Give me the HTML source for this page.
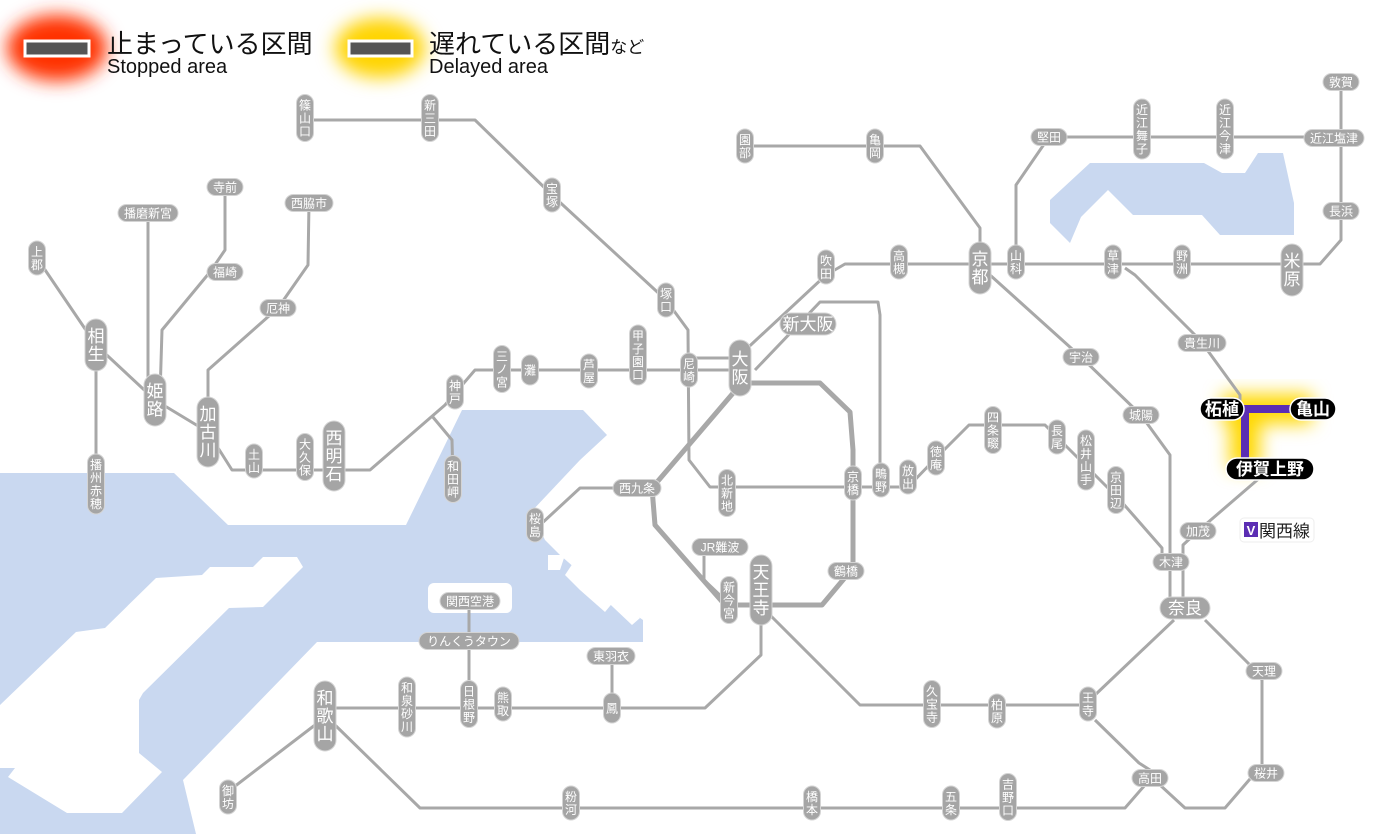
<!DOCTYPE html>
<html><head><meta charset="utf-8"><style>
html,body{margin:0;padding:0;background:#fff;width:1400px;height:834px;overflow:hidden}
svg{display:block}
.l{fill:none;stroke:#a8a8a8;stroke-width:3;stroke-linejoin:round}
.lt{fill:none;stroke:#a8a8a8;stroke-width:5;stroke-linejoin:round}
.p{fill:#a5a5a5;stroke:#d4d4d4;stroke-width:1}
text{font-family:"Liberation Sans","Noto Sans CJK JP",sans-serif}
.t{fill:#fff;font-size:12px;text-anchor:middle}
.b{fill:#fff;font-size:17px;text-anchor:middle}
.k{fill:#fff;font-size:17px;text-anchor:middle;font-weight:bold}
</style></head><body>
<svg width="1400" height="834" viewBox="0 0 1400 834" xmlns="http://www.w3.org/2000/svg">
<defs>
<filter id="bl" x="-50%" y="-50%" width="200%" height="200%"><feGaussianBlur stdDeviation="9"/></filter>
</defs>
<g fill="#c9d8f0">
<polygon points="0,473 174,473 228,525 406,525 462,410 583,410 607,435 580,460 531,512 545,540 560,555 600,590 643,620 643,642 317,642 183,780 196,834 0,834"/>
<polygon points="1090,163 1204,163 1222,173 1245,173 1258,153 1283,153 1294,203 1294,235 1220,235 1202,215 1133,215 1108,190 1081,217 1070,243 1050,223 1050,200"/>
</g>
<g fill="#fff">
<polygon points="263,557 297,557 303,567 263,607 229,608 143,693 139,700 139,753 162,772 122,813 67,813 8,777 15,768 0,768 0,705 76,632 105,628 156,578 202,575 210,567 253,567"/>
<rect x="428" y="583" width="84" height="30" rx="6"/>
<polygon points="548,555 565,555 560,570 548,570"/>
<polygon points="575,560 600,585 615,600 605,612 580,590 565,575"/>
<polygon points="600,580 640,618 632,625 595,590"/>
</g>
<path d="M1222,409 H1312 M1245,409 V469" stroke="#ffd800" stroke-width="30" fill="none" filter="url(#bl)"/>
<ellipse cx="57" cy="48" rx="50" ry="33" fill="#ff3000" filter="url(#bl)"/>
<ellipse cx="380" cy="48" rx="45" ry="30" fill="#ffd400" filter="url(#bl)"/>
<rect x="25" y="41" width="64" height="15" fill="#555" stroke="#fff" stroke-width="3"/>
<rect x="349" y="41" width="63" height="15" fill="#555" stroke="#fff" stroke-width="3"/>
<text x="107" y="53" font-size="26" fill="#111">止まっている区間</text>
<text x="107" y="73" font-size="20" fill="#111">Stopped area</text>
<text x="429" y="53" font-size="26" fill="#111">遅れている区間<tspan font-size="17">など</tspan></text>
<text x="429" y="73" font-size="20" fill="#111">Delayed area</text>

<g class="l">
<polyline points="305,120 475,120 552,195 666,300 688,330 689,460 710,487 908,487"/>
<polyline points="37,258 96,345 155,400 208,432 232,470 370,470 445,405 475,370 740,370"/>
<polyline points="689,358 740,358"/>
<polyline points="740,355 826,275 845,264 1320,264 1341,240 1341,82"/>
<polyline points="1016,262 1016,185 1049,137 1341,137"/>
<polyline points="745,146 920,146 980,228 980,264"/>
<polyline points="160,395 162,330 210,272 225,250 225,187"/>
<polyline points="148,395 148,213"/>
<polyline points="208,410 208,370 278,308 308,265 309,203"/>
<polyline points="96,345 96,484"/>
<polyline points="432,416 452,440 453,479"/>
<polyline points="755,370 820,302 878,302 880,315 880,487"/>
<polyline points="908,487 936,458 969,425 1045,425 1090,470 1120,500 1162,548 1162,560"/>
<polyline points="990,275 1081,357 1141,415 1170,455 1170,605"/>
<polyline points="1270,469 1198,531 1183,545 1183,605"/>
<polyline points="1125,268 1135,275 1200,340 1240,395 1240,405"/>
<polyline points="652,488 580,488 540,525"/>
<polyline points="704,550 704,580 725,600"/>
<polyline points="761,610 761,655 705,708 325,708"/>
<polyline points="469,704 469,600"/>
<polyline points="612,708 612,656"/>
<polyline points="315,725 230,790"/>
<polyline points="335,725 420,808 1125,808 1145,785 1150,770 1139,763 1095,720"/>
<polyline points="770,615 860,705 1088,705"/>
<polyline points="1095,695 1174,620"/>
<polyline points="1205,620 1250,665 1262,680 1262,765 1225,808 1185,808 1160,785"/>
</g>
<g class="lt">
<polyline points="745,383 820,383 850,412 853,450 853,568 822,605 725,605 655,525 652,488 740,385"/>
</g>
<path d="M1222,409 H1312 M1245,409 V469" stroke="#5b2db3" stroke-width="8" fill="none"/>

<g>
<rect class="p" x="296.5" y="94.5" width="17" height="47" rx="8.5"/><text class="t" x="305" y="109.5">篠<tspan x="305" dy="13">山</tspan><tspan x="305" dy="13">口</tspan></text>
<rect class="p" x="421.5" y="94.5" width="17" height="47" rx="8.5"/><text class="t" x="430" y="109.5">新<tspan x="430" dy="13">三</tspan><tspan x="430" dy="13">田</tspan></text>
<rect class="p" x="543.5" y="178" width="17" height="34" rx="8.5"/><text class="t" x="552" y="193">宝<tspan x="552" dy="13">塚</tspan></text>
<rect class="p" x="28.5" y="241" width="17" height="34" rx="8.5"/><text class="t" x="37" y="256">上<tspan x="37" dy="13">郡</tspan></text>
<rect class="p" x="245.5" y="444" width="17" height="34" rx="8.5"/><text class="t" x="254" y="459">土<tspan x="254" dy="13">山</tspan></text>
<rect class="p" x="296.5" y="433.5" width="17" height="47" rx="8.5"/><text class="t" x="305" y="448.5">大<tspan x="305" dy="13">久</tspan><tspan x="305" dy="13">保</tspan></text>
<rect class="p" x="446.5" y="375" width="17" height="34" rx="8.5"/><text class="t" x="455" y="390">神<tspan x="455" dy="13">戸</tspan></text>
<rect class="p" x="444.5" y="455.5" width="17" height="47" rx="8.5"/><text class="t" x="453" y="470.5">和<tspan x="453" dy="13">田</tspan><tspan x="453" dy="13">岬</tspan></text>
<rect class="p" x="493.5" y="345.5" width="17" height="47" rx="8.5"/><text class="t" x="502" y="360.5">三<tspan x="502" dy="13">ノ</tspan><tspan x="502" dy="13">宮</tspan></text>
<rect class="p" x="521.5" y="355" width="17" height="30" rx="8.5"/><text class="t" x="530" y="374.5">灘</text>
<rect class="p" x="580.5" y="354" width="17" height="34" rx="8.5"/><text class="t" x="589" y="369">芦<tspan x="589" dy="13">屋</tspan></text>
<rect class="p" x="629.5" y="325" width="17" height="60" rx="8.5"/><text class="t" x="638" y="340">甲<tspan x="638" dy="13">子</tspan><tspan x="638" dy="13">園</tspan><tspan x="638" dy="13">口</tspan></text>
<rect class="p" x="657.5" y="283" width="17" height="34" rx="8.5"/><text class="t" x="666" y="298">塚<tspan x="666" dy="13">口</tspan></text>
<rect class="p" x="680.5" y="353" width="17" height="34" rx="8.5"/><text class="t" x="689" y="368">尼<tspan x="689" dy="13">崎</tspan></text>
<rect class="p" x="87.5" y="454" width="17" height="60" rx="8.5"/><text class="t" x="96" y="469">播<tspan x="96" dy="13">州</tspan><tspan x="96" dy="13">赤</tspan><tspan x="96" dy="13">穂</tspan></text>
<rect class="p" x="817.5" y="250" width="17" height="34" rx="8.5"/><text class="t" x="826" y="265">吹<tspan x="826" dy="13">田</tspan></text>
<rect class="p" x="890.5" y="245" width="17" height="34" rx="8.5"/><text class="t" x="899" y="260">高<tspan x="899" dy="13">槻</tspan></text>
<rect class="p" x="736.5" y="129" width="17" height="34" rx="8.5"/><text class="t" x="745" y="144">園<tspan x="745" dy="13">部</tspan></text>
<rect class="p" x="866.5" y="129" width="17" height="34" rx="8.5"/><text class="t" x="875" y="144">亀<tspan x="875" dy="13">岡</tspan></text>
<rect class="p" x="1007.5" y="245" width="17" height="34" rx="8.5"/><text class="t" x="1016" y="260">山<tspan x="1016" dy="13">科</tspan></text>
<rect class="p" x="1133.5" y="99" width="17" height="60" rx="8.5"/><text class="t" x="1142" y="114">近<tspan x="1142" dy="13">江</tspan><tspan x="1142" dy="13">舞</tspan><tspan x="1142" dy="13">子</tspan></text>
<rect class="p" x="1216.5" y="99" width="17" height="60" rx="8.5"/><text class="t" x="1225" y="114">近<tspan x="1225" dy="13">江</tspan><tspan x="1225" dy="13">今</tspan><tspan x="1225" dy="13">津</tspan></text>
<rect class="p" x="1104.5" y="245" width="17" height="34" rx="8.5"/><text class="t" x="1113" y="260">草<tspan x="1113" dy="13">津</tspan></text>
<rect class="p" x="1173.5" y="245" width="17" height="34" rx="8.5"/><text class="t" x="1182" y="260">野<tspan x="1182" dy="13">洲</tspan></text>
<rect class="p" x="984.5" y="406.5" width="17" height="47" rx="8.5"/><text class="t" x="993" y="421.5">四<tspan x="993" dy="13">条</tspan><tspan x="993" dy="13">畷</tspan></text>
<rect class="p" x="1048.5" y="420" width="17" height="34" rx="8.5"/><text class="t" x="1057" y="435">長<tspan x="1057" dy="13">尾</tspan></text>
<rect class="p" x="1077.5" y="430" width="17" height="60" rx="8.5"/><text class="t" x="1086" y="445">松<tspan x="1086" dy="13">井</tspan><tspan x="1086" dy="13">山</tspan><tspan x="1086" dy="13">手</tspan></text>
<rect class="p" x="1107.5" y="466.5" width="17" height="47" rx="8.5"/><text class="t" x="1116" y="481.5">京<tspan x="1116" dy="13">田</tspan><tspan x="1116" dy="13">辺</tspan></text>
<rect class="p" x="927.5" y="441" width="17" height="34" rx="8.5"/><text class="t" x="936" y="456">徳<tspan x="936" dy="13">庵</tspan></text>
<rect class="p" x="899.5" y="460" width="17" height="34" rx="8.5"/><text class="t" x="908" y="475">放<tspan x="908" dy="13">出</tspan></text>
<rect class="p" x="872.5" y="463" width="17" height="34" rx="8.5"/><text class="t" x="881" y="478">鴫<tspan x="881" dy="13">野</tspan></text>
<rect class="p" x="844.5" y="466" width="17" height="34" rx="8.5"/><text class="t" x="853" y="481">京<tspan x="853" dy="13">橋</tspan></text>
<rect class="p" x="718.5" y="469.5" width="17" height="47" rx="8.5"/><text class="t" x="727" y="484.5">北<tspan x="727" dy="13">新</tspan><tspan x="727" dy="13">地</tspan></text>
<rect class="p" x="526.5" y="508" width="17" height="34" rx="8.5"/><text class="t" x="535" y="523">桜<tspan x="535" dy="13">島</tspan></text>
<rect class="p" x="720.5" y="576.5" width="17" height="47" rx="8.5"/><text class="t" x="729" y="591.5">新<tspan x="729" dy="13">今</tspan><tspan x="729" dy="13">宮</tspan></text>
<rect class="p" x="1079.5" y="687" width="17" height="34" rx="8.5"/><text class="t" x="1088" y="702">王<tspan x="1088" dy="13">寺</tspan></text>
<rect class="p" x="988.5" y="694" width="17" height="34" rx="8.5"/><text class="t" x="997" y="709">柏<tspan x="997" dy="13">原</tspan></text>
<rect class="p" x="923.5" y="680.5" width="17" height="47" rx="8.5"/><text class="t" x="932" y="695.5">久<tspan x="932" dy="13">宝</tspan><tspan x="932" dy="13">寺</tspan></text>
<rect class="p" x="942.5" y="786" width="17" height="34" rx="8.5"/><text class="t" x="951" y="801">五<tspan x="951" dy="13">条</tspan></text>
<rect class="p" x="999.5" y="773.5" width="17" height="47" rx="8.5"/><text class="t" x="1008" y="788.5">吉<tspan x="1008" dy="13">野</tspan><tspan x="1008" dy="13">口</tspan></text>
<rect class="p" x="803.5" y="786" width="17" height="34" rx="8.5"/><text class="t" x="812" y="801">橋<tspan x="812" dy="13">本</tspan></text>
<rect class="p" x="562.5" y="786" width="17" height="34" rx="8.5"/><text class="t" x="571" y="801">粉<tspan x="571" dy="13">河</tspan></text>
<rect class="p" x="219.5" y="780" width="17" height="34" rx="8.5"/><text class="t" x="228" y="795">御<tspan x="228" dy="13">坊</tspan></text>
<rect class="p" x="398.5" y="677" width="17" height="60" rx="8.5"/><text class="t" x="407" y="692">和<tspan x="407" dy="13">泉</tspan><tspan x="407" dy="13">砂</tspan><tspan x="407" dy="13">川</tspan></text>
<rect class="p" x="460.5" y="680.5" width="17" height="47" rx="8.5"/><text class="t" x="469" y="695.5">日<tspan x="469" dy="13">根</tspan><tspan x="469" dy="13">野</tspan></text>
<rect class="p" x="494.5" y="687" width="17" height="34" rx="8.5"/><text class="t" x="503" y="702">熊<tspan x="503" dy="13">取</tspan></text>
<rect class="p" x="603.5" y="693" width="17" height="30" rx="8.5"/><text class="t" x="612" y="712.5">鳳</text>
</g>
<g>
<rect class="p" x="85" y="319" width="22" height="52" rx="11"/><text class="b" x="96" y="342">相<tspan x="96" dy="18">生</tspan></text>
<rect class="p" x="144" y="374" width="22" height="52" rx="11"/><text class="b" x="155" y="397">姫<tspan x="155" dy="18">路</tspan></text>
<rect class="p" x="197" y="397" width="22" height="70" rx="11"/><text class="b" x="208" y="420">加<tspan x="208" dy="18">古</tspan><tspan x="208" dy="18">川</tspan></text>
<rect class="p" x="323" y="421" width="22" height="70" rx="11"/><text class="b" x="334" y="444">西<tspan x="334" dy="18">明</tspan><tspan x="334" dy="18">石</tspan></text>
<rect class="p" x="729" y="340" width="22" height="56" rx="11"/><text class="b" x="740" y="365">大<tspan x="740" dy="18">阪</tspan></text>
<rect class="p" x="969" y="242" width="22" height="52" rx="11"/><text class="b" x="980" y="265">京<tspan x="980" dy="18">都</tspan></text>
<rect class="p" x="1281" y="244" width="22" height="52" rx="11"/><text class="b" x="1292" y="267">米<tspan x="1292" dy="18">原</tspan></text>
<rect class="p" x="750" y="555" width="22" height="70" rx="11"/><text class="b" x="761" y="578">天<tspan x="761" dy="18">王</tspan><tspan x="761" dy="18">寺</tspan></text>
<rect class="p" x="314" y="681" width="22" height="70" rx="11"/><text class="b" x="325" y="704">和<tspan x="325" dy="18">歌</tspan><tspan x="325" dy="18">山</tspan></text>
</g>
<g>
<rect class="p" x="207" y="178.5" width="36" height="17" rx="8.5"/><text class="t" x="225" y="191.5">寺前</text>
<rect class="p" x="118" y="204.5" width="60" height="17" rx="8.5"/><text class="t" x="148" y="217.5">播磨新宮</text>
<rect class="p" x="285" y="194.5" width="48" height="17" rx="8.5"/><text class="t" x="309" y="207.5">西脇市</text>
<rect class="p" x="207" y="263.5" width="36" height="17" rx="8.5"/><text class="t" x="225" y="276.5">福崎</text>
<rect class="p" x="260" y="299.5" width="36" height="17" rx="8.5"/><text class="t" x="278" y="312.5">厄神</text>
<rect class="p" x="1031" y="128.5" width="36" height="17" rx="8.5"/><text class="t" x="1049" y="141.5">堅田</text>
<rect class="p" x="1304" y="129.5" width="60" height="17" rx="8.5"/><text class="t" x="1334" y="142.5">近江塩津</text>
<rect class="p" x="1323" y="73.5" width="36" height="17" rx="8.5"/><text class="t" x="1341" y="86.5">敦賀</text>
<rect class="p" x="1323" y="202.5" width="36" height="17" rx="8.5"/><text class="t" x="1341" y="215.5">長浜</text>
<rect class="p" x="1063" y="348.5" width="36" height="17" rx="8.5"/><text class="t" x="1081" y="361.5">宇治</text>
<rect class="p" x="1178" y="334.5" width="48" height="17" rx="8.5"/><text class="t" x="1202" y="347.5">貴生川</text>
<rect class="p" x="1123" y="406.5" width="36" height="17" rx="8.5"/><text class="t" x="1141" y="419.5">城陽</text>
<rect class="p" x="1180" y="522.5" width="36" height="17" rx="8.5"/><text class="t" x="1198" y="535.5">加茂</text>
<rect class="p" x="613" y="479.5" width="48" height="17" rx="8.5"/><text class="t" x="637" y="492.5">西九条</text>
<rect class="p" x="692" y="538.5" width="56" height="17" rx="8.5"/><text class="t" x="720" y="551.5">JR難波</text>
<rect class="p" x="828" y="562.5" width="36" height="17" rx="8.5"/><text class="t" x="846" y="575.5">鶴橋</text>
<rect class="p" x="1153" y="553.5" width="36" height="17" rx="8.5"/><text class="t" x="1171" y="566.5">木津</text>
<rect class="p" x="1246" y="662.5" width="36" height="17" rx="8.5"/><text class="t" x="1264" y="675.5">天理</text>
<rect class="p" x="1132" y="769.5" width="36" height="17" rx="8.5"/><text class="t" x="1150" y="782.5">高田</text>
<rect class="p" x="1248" y="764.5" width="36" height="17" rx="8.5"/><text class="t" x="1266" y="777.5">桜井</text>
<rect class="p" x="587" y="647.5" width="48" height="17" rx="8.5"/><text class="t" x="611" y="660.5">東羽衣</text>
<rect class="p" x="419" y="632.5" width="100" height="17" rx="8.5"/><text class="t" x="469" y="645.5">りんくうタウン</text>
<rect class="p" x="440" y="592.5" width="60" height="17" rx="8.5"/><text class="t" x="470" y="605.5">関西空港</text>
<rect class="p" x="780" y="313" width="56" height="22" rx="11"/><text class="b" x="808" y="330">新大阪</text>
<rect class="p" x="1160" y="597" width="50" height="22" rx="11"/><text class="b" x="1185" y="614">奈良</text>
</g>
<rect x="1200" y="398" width="44" height="22" rx="11" fill="#000" stroke="#fff" stroke-width="1.5"/><text class="k" x="1222" y="415">柘植</text>
<rect x="1290" y="398" width="46" height="22" rx="11" fill="#000" stroke="#fff" stroke-width="1.5"/><text class="k" x="1313" y="415">亀山</text>
<rect x="1226" y="458" width="88" height="22" rx="11" fill="#000" stroke="#fff" stroke-width="1.5"/><text class="k" x="1270" y="475">伊賀上野</text>
<rect x="1240" y="518" width="74" height="24" rx="4" fill="#fff" stroke="#eee"/>
<rect x="1244" y="522" width="14" height="15" fill="#5b2db3"/>
<text x="1251" y="535" font-size="13" fill="#fff" text-anchor="middle" font-weight="bold">V</text>
<text x="1259" y="537" font-size="17" fill="#222">関西線</text>
</svg>
</body></html>
